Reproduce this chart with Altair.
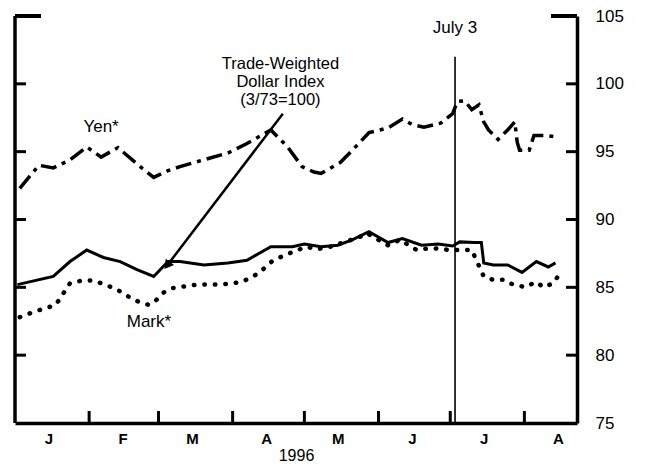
import altair as alt
import pandas as pd

# ---- data ----
yen_dates = ["1996-01-03", "1996-01-11", "1996-01-17", "1996-01-24", "1996-01-31", "1996-02-06",
             "1996-02-13", "1996-02-23", "1996-02-28", "1996-03-05", "1996-03-10", "1996-03-20",
             "1996-03-30", "1996-04-07", "1996-04-17", "1996-04-24", "1996-04-30", "1996-05-05",
             "1996-05-08", "1996-05-16", "1996-05-21", "1996-05-28", "1996-06-05", "1996-06-11",
             "1996-06-15", "1996-06-20", "1996-06-27", "1996-07-02", "1996-07-04", "1996-07-07",
             "1996-07-10", "1996-07-13", "1996-07-15", "1996-07-17", "1996-07-21", "1996-07-25",
             "1996-07-28", "1996-07-29", "1996-07-30", "1996-08-03", "1996-08-05", "1996-08-09",
             "1996-08-14"]
yen_vals = [92.3, 94.0, 93.8, 94.4, 95.35, 94.6,
            95.3, 93.8, 93.1, 93.6, 93.9, 94.4,
            94.9, 95.6, 96.6, 95.35, 93.9, 93.5,
            93.4, 94.2, 95.1, 96.4, 96.75, 97.4,
            97.0, 96.8, 97.1, 97.8, 98.7, 98.75,
            98.1, 98.45, 97.2, 96.6, 95.9, 96.6,
            97.2, 95.7, 95.1, 95.1, 96.2, 96.2,
            96.1]

dollar_dates = ["1996-01-02", "1996-01-07", "1996-01-17", "1996-01-24", "1996-01-31", "1996-02-07",
                "1996-02-14", "1996-02-21", "1996-02-28", "1996-03-05", "1996-03-10", "1996-03-20",
                "1996-03-30", "1996-04-07", "1996-04-17", "1996-04-26", "1996-05-01", "1996-05-08",
                "1996-05-15", "1996-05-21", "1996-05-28", "1996-06-05", "1996-06-11", "1996-06-19",
                "1996-06-26", "1996-07-02", "1996-07-05", "1996-07-11", "1996-07-14", "1996-07-15",
                "1996-07-19", "1996-07-25", "1996-07-31", "1996-08-06", "1996-08-11", "1996-08-14"]
dollar_vals = [85.2, 85.4, 85.8, 86.9, 87.75, 87.2,
               86.9, 86.3, 85.8, 86.9, 86.9, 86.65,
               86.8, 87.0, 88.0, 88.0, 88.2, 88.0,
               88.1, 88.5, 89.1, 88.3, 88.6, 88.1,
               88.2, 88.05, 88.35, 88.3, 88.3, 86.8,
               86.65, 86.65, 86.1, 86.9, 86.5, 86.8]

mark_dates = ["1996-01-03", "1996-01-09", "1996-01-18", "1996-01-24", "1996-01-29", "1996-02-03",
              "1996-02-12", "1996-02-20", "1996-02-26", "1996-02-29", "1996-03-03", "1996-03-07",
              "1996-03-17", "1996-03-27", "1996-04-05", "1996-04-12", "1996-04-18", "1996-04-26",
              "1996-05-02", "1996-05-06", "1996-05-12", "1996-05-24", "1996-05-27", "1996-06-05",
              "1996-06-10", "1996-06-17", "1996-06-23", "1996-07-01", "1996-07-10", "1996-07-15",
              "1996-07-19", "1996-07-23", "1996-07-25", "1996-07-29", "1996-08-01", "1996-08-06",
              "1996-08-09", "1996-08-13", "1996-08-15"]
mark_vals = [82.8, 83.2, 83.7, 85.3, 85.5, 85.5,
             84.9, 84.05, 83.7, 84.05, 84.6, 84.95,
             85.2, 85.2, 85.4, 86.05, 87.0, 87.6,
             88.0, 87.8, 88.0, 88.7, 89.0, 88.1,
             88.5, 87.75, 87.9, 87.75, 87.75, 85.8,
             85.55, 85.55, 85.3, 85.2, 85.0, 85.4,
             85.0, 85.3, 85.8]

month_starts = ["1996-02-01", "1996-03-01", "1996-04-01", "1996-05-01",
                "1996-06-01", "1996-07-01", "1996-08-01"]
y_ticks = [80, 85, 90, 95, 100]
y_labels = [75, 80, 85, 90, 95, 100, 105]

event_date = ["1996-07-03"]
event_label = ["July 3"]

note_lines = ["Trade-Weighted", "Dollar Index", "(3/73=100)"]
note_y = [101.44, 100.14, 98.84]
note_date = "1996-04-21"

arrow_from = ("1996-04-22", 97.8)
arrow_to = ("1996-03-05", 86.7)

series_labels = ["Yen*", "Mark*"]
series_label_dates = ["1996-02-06", "1996-02-26"]
series_label_y = [96.8, 82.45]

# ---- helpers ----
def t(d):
    return d + "T00:00:00"

W, H = 562, 407
FONT = "Liberation Sans"

x_scale = alt.Scale(domain=[alt.DateTime(year=1996, month=1, date=1),
                            alt.DateTime(year=1996, month=8, date=23)])
y_scale = alt.Scale(domain=[75, 105], nice=False, zero=False)

x_axis = alt.Axis(
    values=[alt.DateTime(year=1996, month=m, date=15) for m in range(1, 9)],
    labelExpr="substring(timeFormat(datum.value, '%b'), 0, 1)",
    title="1996", ticks=False, grid=False,
    domainColor="black", domainWidth=3.5,
    labelFont=FONT, labelFontSize=15, labelFontWeight="bold", labelColor="black",
    labelPadding=8, titleFont=FONT, titleFontSize=16, titleFontWeight="normal",
    titleColor="black", titlePadding=1,
)
y_axis = alt.Axis(
    orient="right", values=y_labels, ticks=False, grid=False, title=None,
    domainColor="black", domainWidth=3.5,
    labelFont=FONT, labelFontSize=17, labelColor="black", labelPadding=18,
)


def X(f="date"):
    return alt.X(f + ":T", scale=x_scale, axis=x_axis)


def Y(f="value"):
    return alt.Y(f + ":Q", scale=y_scale, axis=y_axis)


dollar_df = pd.DataFrame({"date": [t(d) for d in dollar_dates], "value": dollar_vals})
yen_df = pd.DataFrame({"date": [t(d) for d in yen_dates], "value": yen_vals})
mark_df = pd.DataFrame({"date": [t(d) for d in mark_dates], "value": mark_vals})

dollar = alt.Chart(dollar_df).mark_line(color="black", strokeWidth=3).encode(x=X(), y=Y())
yen = alt.Chart(yen_df).mark_line(color="black", strokeWidth=3.5,
                                  strokeDash=[16, 6, 4, 6]).encode(x=X(), y=Y())
mark = alt.Chart(mark_df).mark_line(color="black", strokeWidth=4.5, strokeCap="round",
                                    strokeDash=[0.5, 10]).encode(x=X(), y=Y())

# frame pieces
left_border = alt.Chart(pd.DataFrame({"a": [0]})).mark_rule(color="black", strokeWidth=3.5).encode(
    x=alt.value(0), y=alt.value(0), y2=alt.value(H))
tick_df = pd.DataFrame({"v": y_ticks})
left_ticks = alt.Chart(tick_df).mark_rule(color="black", strokeWidth=3).encode(
    y=Y("v"), x=alt.value(0), x2=alt.value(11))
right_ticks = alt.Chart(tick_df).mark_rule(color="black", strokeWidth=3).encode(
    y=Y("v"), x=alt.value(W - 11), x2=alt.value(W))
top_df = pd.DataFrame({"v": [105]})
corner_l = alt.Chart(top_df).mark_rule(color="black", strokeWidth=4).encode(
    y=Y("v"), x=alt.value(0), x2=alt.value(26))
corner_r = alt.Chart(top_df).mark_rule(color="black", strokeWidth=4).encode(
    y=Y("v"), x=alt.value(W - 26), x2=alt.value(W))
month_df = pd.DataFrame({"date": [t(d) for d in month_starts]})
month_ticks = alt.Chart(month_df).mark_rule(color="black", strokeWidth=3).encode(
    x=X(), y=alt.value(H), y2=alt.value(H - 12))

# event line
ev_df = pd.DataFrame({"date": [t(d) for d in event_date], "top": [102.0], "bot": [75],
                      "ly": [104.1], "label": event_label})
ev_rule = alt.Chart(ev_df).mark_rule(color="black", strokeWidth=1.6).encode(
    x=X(), y=Y("top"), y2="bot:Q")
ev_text = alt.Chart(ev_df).mark_text(font=FONT, fontSize=17, color="black").encode(
    x=X(), y=Y("ly"), text="label:N")

# annotation
note_df = pd.DataFrame({"date": [t(note_date)] * 3, "y": note_y, "label": note_lines})
note = alt.Chart(note_df).mark_text(font=FONT, fontSize=16.5, color="black").encode(
    x=X(), y=Y("y"), text="label:N")
arrow_df = pd.DataFrame({"date": [t(arrow_from[0])], "y": [arrow_from[1]],
                         "date2": [t(arrow_to[0])], "y2": [arrow_to[1]]})
arrow = alt.Chart(arrow_df).mark_rule(color="black", strokeWidth=2.5).encode(
    x=X(), y=Y("y"), x2="date2:T", y2="y2:Q")
head_df = pd.DataFrame({"date": [t(arrow_to[0])], "y": [arrow_to[1]]})
head = alt.Chart(head_df).mark_point(shape="triangle", filled=True, color="black",
                                     opacity=1, size=110, angle=217).encode(x=X(), y=Y("y"))

lab_df = pd.DataFrame({"date": [t(d) for d in series_label_dates], "y": series_label_y,
                       "label": series_labels})
labels = alt.Chart(lab_df).mark_text(font=FONT, fontSize=17, color="black").encode(
    x=X(), y=Y("y"), text="label:N")

chart = alt.layer(
    dollar, yen, mark, left_border, left_ticks, right_ticks, corner_l, corner_r,
    month_ticks, ev_rule, ev_text, note, arrow, head, labels,
).properties(
    width=W, height=H,
    autosize=alt.AutoSizeParams(type="none"),
    padding={"left": 7, "top": 8, "right": 60, "bottom": 48},
    background="white",
).configure_view(stroke=None)

chart.save("out.html", embed_options={"renderer": "svg", "actions": False})
